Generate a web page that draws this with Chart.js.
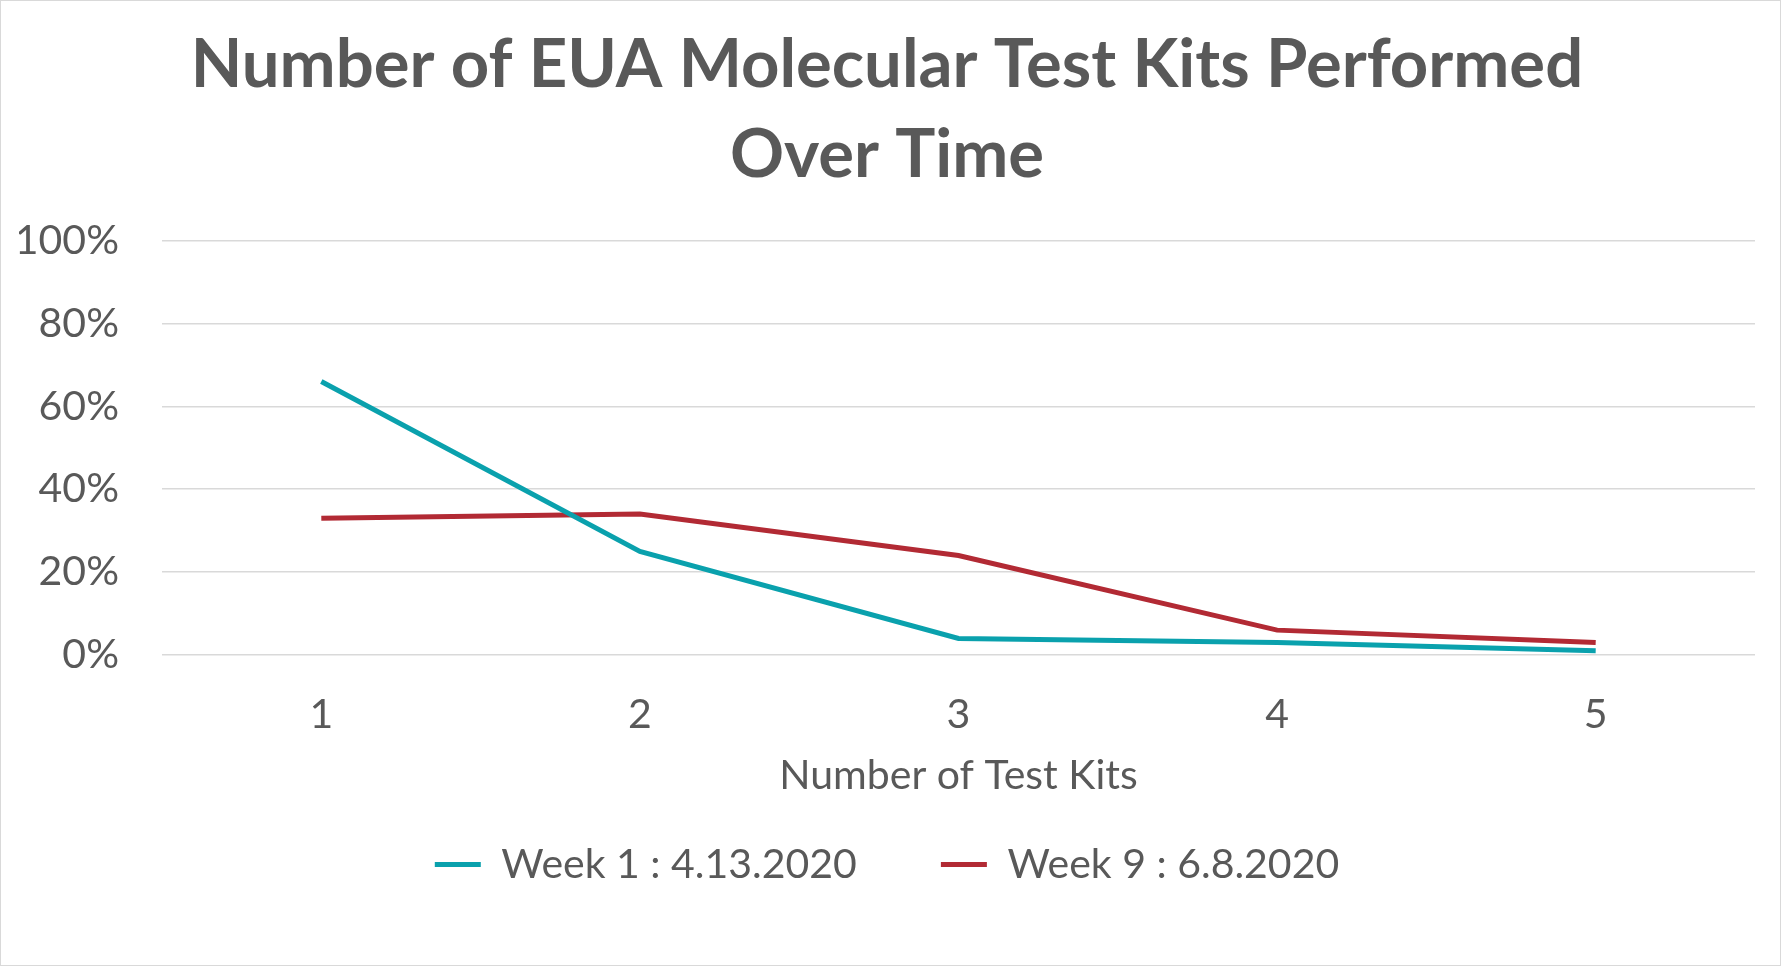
<!DOCTYPE html>
<html>
<head>
<meta charset="utf-8">
<title>Number of EUA Molecular Test Kits Performed Over Time</title>
<script src="https://cdn.jsdelivr.net/npm/chart.js@4.4.0/dist/chart.umd.min.js"></script>
<style>
  html, body { margin: 0; padding: 0; background: #ffffff; }
  #wrap { width: 1781px; height: 966px; box-sizing: border-box; border: 1px solid #d9d9d9; position: relative; }
</style>
</head>
<body>
<div id="wrap"><canvas id="chart"></canvas></div>
<script>
// categories (number of test kits) and percentages per week
var kits = ['1', '2', '3', '4', '5'];
var week1 = [66, 25, 4, 3, 1];
var week9 = [33, 34, 24, 6, 3];
var seriesNames = ['Week 1 : 4.13.2020', 'Week 9 : 6.8.2020'];
var yTicks = [0, 20, 40, 60, 80, 100];

var grey = '#595959';
var fontName = 'Lato, "Open Sans", sans-serif';

var ctx = document.getElementById('chart').getContext('2d');

var myChart = new Chart(ctx, {
  type: 'line',
  data: {
    labels: kits,
    datasets: [{
      label: seriesNames[0],
      data: week1,
      borderColor: '#0AA1AD',
      backgroundColor: '#0AA1AD',
      borderWidth: 5,
      pointRadius: 0,
      tension: 0
    }, {
      label: seriesNames[1],
      data: week9,
      borderColor: '#B22A34',
      backgroundColor: '#B22A34',
      borderWidth: 5,
      pointRadius: 0,
      tension: 0
    }]
  },
  options: {
    responsive: true,
    maintainAspectRatio: false,
    animation: false,
    layout: {
      padding: { left: 18, right: 25, top: 0, bottom: 70 }
    },
    plugins: {
      title: {
        display: true,
        text: ['Number of EUA Molecular Test Kits Performed', 'Over Time'],
        color: grey,
        font: { family: fontName, size: 67, weight: 'bold', lineHeight: 1.34 },
        padding: { top: 20, bottom: 40 }
      },
      legend: {
        position: 'bottom',
        labels: {
          color: grey,
          font: { family: fontName, size: 41 },
          usePointStyle: true,
          pointStyle: 'line',
          pointStyleWidth: 46,
          boxHeight: 41,
          padding: 84
        }
      },
      tooltip: { enabled: false }
    },
    scales: {
      x: {
        offset: true,
        grid: { display: false },
        border: { display: false },
        ticks: {
          color: grey,
          font: { family: fontName, size: 41 },
          padding: 27
        },
        title: {
          display: true,
          text: 'Number of Test Kits',
          color: grey,
          font: { family: fontName, size: 41 },
          padding: { top: 0, bottom: -40 }
        },
        afterFit: function(axis) {
          axis.height = 105;
        }
      },
      y: {
        min: 0,
        max: 100,
        afterBuildTicks: function(axis) {
          axis.ticks = yTicks.map(function(v) { return { value: v }; });
        },
        afterFit: function(axis) {
          axis.width = 143;
        },
        grid: { color: '#d9d9d9', lineWidth: 1.5, drawTicks: false },
        border: { display: false },
        ticks: {
          color: grey,
          font: { family: fontName, size: 41 },
          padding: 43,
          callback: function(value) { return value + '%'; }
        }
      }
    }
  }
});
</script>
</body>
</html>
